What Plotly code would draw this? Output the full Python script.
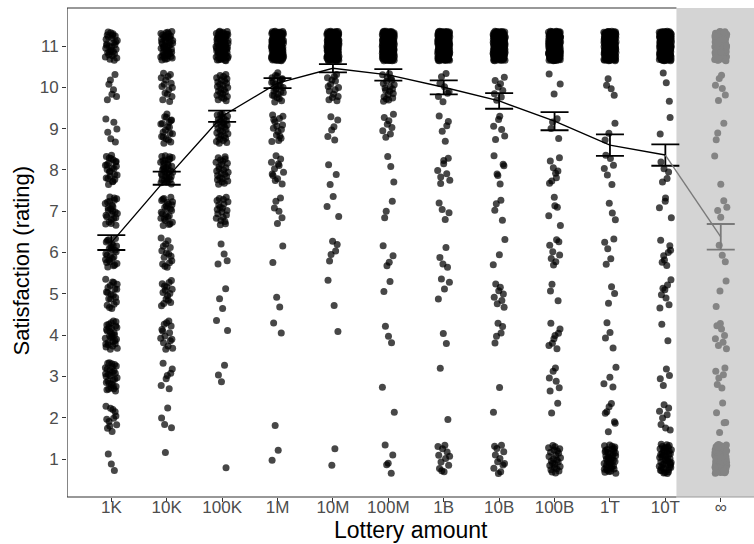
import numpy as np
import plotly.graph_objects as go

# Lottery amounts shown on the x axis
amounts = ["1K", "10K", "100K", "1M", "10M", "100M", "1B", "10B", "100B", "1T", "10T", "∞"]
ratings = list(range(1, 12))

# Number of responses at each rating 1..11 for every lottery amount
counts_1K   = [3, 12, 30, 30, 20, 25, 25, 25, 6, 7, 30]
counts_10K  = [1, 4, 7, 15, 15, 15, 25, 35, 20, 15, 45]
counts_100K = [1, 0, 3, 2, 3, 4, 20, 25, 30, 25, 70]
counts_1M   = [2, 1, 0, 2, 2, 2, 6, 12, 15, 25, 130]
counts_10M  = [2, 0, 0, 1, 2, 5, 3, 3, 6, 15, 170]
counts_100M = [5, 1, 1, 3, 2, 4, 3, 3, 8, 20, 190]
counts_1B   = [12, 1, 1, 2, 4, 4, 4, 8, 5, 8, 200]
counts_10B  = [12, 1, 1, 5, 8, 3, 4, 6, 6, 8, 170]
counts_100B = [25, 2, 6, 8, 3, 8, 5, 8, 4, 3, 190]
counts_1T   = [40, 7, 4, 4, 3, 5, 3, 6, 3, 4, 175]
counts_10T  = [45, 8, 4, 2, 8, 8, 4, 5, 2, 3, 175]
counts_inf  = [75, 5, 6, 8, 3, 3, 4, 2, 3, 6, 90]

all_counts = [counts_1K, counts_10K, counts_100K, counts_1M, counts_10M, counts_100M,
              counts_1B, counts_10B, counts_100B, counts_1T, counts_10T, counts_inf]

# Mean satisfaction and its standard error per lottery amount
mean_rating = [6.24, 7.80, 9.30, 10.10, 10.46, 10.30, 10.00, 9.67, 9.18, 8.60, 8.36, 6.38]
se_rating   = [0.18, 0.16, 0.135, 0.12, 0.10, 0.14, 0.17, 0.19, 0.22, 0.26, 0.26, 0.31]

JIT_X = 0.11
JIT_Y = 0.36


def halton(i, base):
    f, r = 1.0, 0.0
    while i > 0:
        f /= base
        r += f * (i % base)
        i //= base
    return r


def jittered(pos, counts, start):
    xs, ys = [], []
    k = start
    for r, n in zip(ratings, counts):
        for _ in range(n):
            k += 1
            xs.append(pos + (2 * halton(k, 2) - 1) * JIT_X)
            ys.append(r + (2 * halton(k, 3) - 1) * JIT_Y)
    return xs, ys


xpos = list(range(1, len(amounts) + 1))
fig = go.Figure()

# Finite amounts: dark translucent points
px_all, py_all = [], []
for i, c in enumerate(all_counts[:-1]):
    xs, ys = jittered(xpos[i], c, 37 * i)
    px_all += xs
    py_all += ys
fig.add_trace(go.Scatter(
    x=px_all, y=py_all, mode="markers",
    marker=dict(size=7, color="rgba(0,0,0,0.72)", line=dict(width=0)),
    hoverinfo="skip", showlegend=False))

# Infinite amount: gray points
xs, ys = jittered(xpos[-1], all_counts[-1], 37 * 11)
fig.add_trace(go.Scatter(
    x=xs, y=ys, mode="markers",
    marker=dict(size=7, color="#848484", line=dict(width=0)),
    hoverinfo="skip", showlegend=False))

# Mean line with standard-error bars for the finite amounts
fig.add_trace(go.Scatter(
    x=xpos[:-1], y=mean_rating[:-1], mode="lines",
    line=dict(color="black", width=1.4),
    error_y=dict(type="data", array=se_rating[:-1], color="black", thickness=1.8, width=14),
    hoverinfo="skip", showlegend=False))

# Segment to the infinite amount and its error bar, in gray
fig.add_trace(go.Scatter(
    x=xpos[-2:], y=mean_rating[-2:], mode="lines",
    line=dict(color="#7a7a7a", width=1.4),
    hoverinfo="skip", showlegend=False))
fig.add_trace(go.Scatter(
    x=[xpos[-1]], y=[mean_rating[-1]], mode="markers",
    marker=dict(size=1, color="rgba(0,0,0,0)"),
    error_y=dict(type="data", array=[se_rating[-1]], color="#7a7a7a", thickness=1.8, width=14),
    hoverinfo="skip", showlegend=False))

XMIN, XMAX = 0.2, 12.6
YMIN, YMAX = 0.08, 11.92
SHADE_X0 = 11.2

shapes = [
    # shaded region behind the infinite amount
    dict(type="rect", xref="x", yref="paper", x0=SHADE_X0, x1=XMAX, y0=0, y1=1,
         fillcolor="#d4d4d4", line=dict(width=0), layer="below"),
    # panel border
    dict(type="line", xref="x", yref="paper", x0=XMIN, x1=SHADE_X0, y0=1, y1=1,
         line=dict(color="#333333", width=1.2)),
    dict(type="line", xref="x", yref="paper", x0=XMIN, x1=SHADE_X0, y0=0, y1=0,
         line=dict(color="#333333", width=1.2)),
    dict(type="line", xref="x", yref="paper", x0=SHADE_X0, x1=XMAX, y0=0, y1=0,
         line=dict(color="#9a9a9a", width=1.2)),
    dict(type="line", xref="x", yref="paper", x0=XMIN, x1=XMIN, y0=0, y1=1,
         line=dict(color="#333333", width=1.2)),
]

annotations = [
    dict(text="Lottery amount", xref="paper", yref="paper", x=0.5, y=-0.067,
         xanchor="center", yanchor="middle", showarrow=False,
         font=dict(size=23, color="black")),
    dict(text="Satisfaction (rating)", xref="paper", yref="paper", x=-0.066, y=0.483,
         xanchor="center", yanchor="middle", textangle=-90, showarrow=False,
         font=dict(size=22, color="black")),
]

fig.update_layout(
    width=754, height=544,
    margin=dict(l=67, r=0, t=8, b=47),
    paper_bgcolor="white", plot_bgcolor="white",
    font=dict(family="Liberation Sans, Arial, sans-serif"),
    shapes=shapes,
    annotations=annotations,
    showlegend=False,
)
fig.update_xaxes(
    range=[XMIN, XMAX], tickmode="array", tickvals=xpos, ticktext=amounts,
    showgrid=False, zeroline=False, showline=False,
    ticks="outside", ticklen=4, tickwidth=1, tickcolor="#333333",
    tickfont=dict(size=17, color="#4d4d4d"), ticklabelstandoff=-9,
)
fig.update_yaxes(
    range=[YMIN, YMAX], tickmode="array", tickvals=ratings,
    showgrid=False, zeroline=False, showline=False,
    ticks="outside", ticklen=4, tickwidth=1, tickcolor="#333333",
    tickfont=dict(size=17, color="#4d4d4d"),
)

fig.write_html("out.html")
